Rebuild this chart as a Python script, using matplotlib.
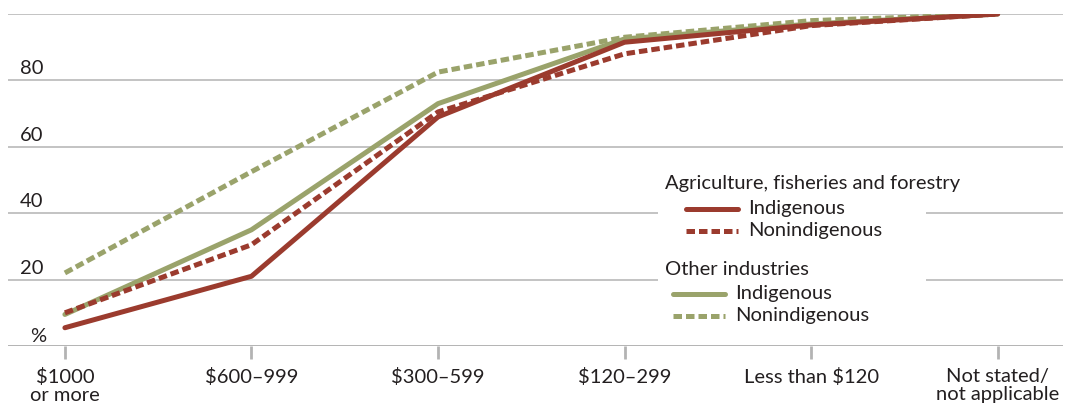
import matplotlib
matplotlib.use("Agg")
import matplotlib.pyplot as plt
from matplotlib.lines import Line2D

plt.rcParams['font.family'] = ['Lato', 'DejaVu Sans']

categories = ['$1000\nor more', '$600–999', '$300–599', '$120–299',
              'Less than $120', 'Not stated/\nnot applicable']
agri_indig = [5.5, 21, 69, 91.5, 96.7, 100]
agri_nonindig = [10, 30.5, 70.5, 88, 96.5, 100]
other_indig = [9.5, 35, 73, 92.5, 97, 100]
other_nonindig = [22, 52.5, 82.5, 93, 98, 100]
yticks = [20, 40, 60, 80]

RED = '#9b3b2e'
GREEN = '#9aa36b'
GRID = '#b3b3b3'
TXT = '#231f20'
FS = 14.5
LW = 3.6
DASH = (1.7, 0.8)

fig = plt.figure(figsize=(10.65, 4.06), dpi=100)
ax = fig.add_axes([8 / 1065, 59 / 406, 1055 / 1065, 332 / 406])

x = list(range(len(categories)))
ax.plot(x, other_nonindig, color=GREEN, lw=LW, dashes=DASH, dash_capstyle='butt', zorder=3)
ax.plot(x, other_indig, color=GREEN, lw=LW, solid_capstyle='round', zorder=4)
ax.plot(x, agri_nonindig, color=RED, lw=LW, dashes=DASH, dash_capstyle='butt', zorder=5)
ax.plot(x, agri_indig, color=RED, lw=LW, solid_capstyle='round', zorder=6)

ax.set_xlim(-0.305, 5.35)
ax.set_ylim(0, 100)

for v in yticks + [100]:
    ax.axhline(v, color=GRID, lw=1.1, zorder=1)
ax.axhline(0, color=GRID, lw=1.4, zorder=1)

for s in ax.spines.values():
    s.set_visible(False)
ax.set_yticks([])
ax.set_xticks(x)
ax.set_xticklabels(categories, fontsize=FS, color=TXT, linespacing=1.08, va='top')
ax.tick_params(axis='x', length=9, width=2, color=GRID, pad=6)

ytr = ax.get_yaxis_transform()
for v in yticks:
    ax.text(0.011, v + 1.2, str(v), transform=ytr, fontsize=FS, color=TXT,
            ha='left', va='bottom')
ax.text(0.021, 0.6, '%', transform=ytr, fontsize=FS, color=TXT, ha='left', va='bottom')

# legend block with white background covering the gridlines
bg = plt.Rectangle((658 / 1065, 78 / 406), 268 / 1065, 160 / 406,
                   transform=fig.transFigure, facecolor='white', edgecolor='none', zorder=2)
ax.add_patch(bg)

def fx(px):
    return px / 1065

def fy(py):
    return 1 - py / 406

legend_items = [
    ('Agriculture, fisheries and forestry', 665, 184, None, None),
    ('Indigenous', 748, 209, RED, 'solid'),
    ('Nonindigenous', 748, 231, RED, 'dash'),
    ('Other industries', 665, 270, None, None),
    ('Indigenous', 735, 294, GREEN, 'solid'),
    ('Nonindigenous', 735, 316, GREEN, 'dash'),
]
for label, px, py, col, style in legend_items:
    fig.text(fx(px), fy(py), label, fontsize=FS, color=TXT, ha='left', va='center')
    if col is not None:
        x1 = px - 10
        x0 = x1 - 52
        ln = Line2D([fx(x0), fx(x1)], [fy(py + 1), fy(py + 1)], transform=fig.transFigure,
                    color=col, lw=LW)
        if style == 'dash':
            ln.set_dashes(DASH)
            ln.set_dash_capstyle('butt')
        else:
            ln.set_solid_capstyle('round')
        fig.add_artist(ln)

fig.savefig('out.png', dpi=100, facecolor='white')
